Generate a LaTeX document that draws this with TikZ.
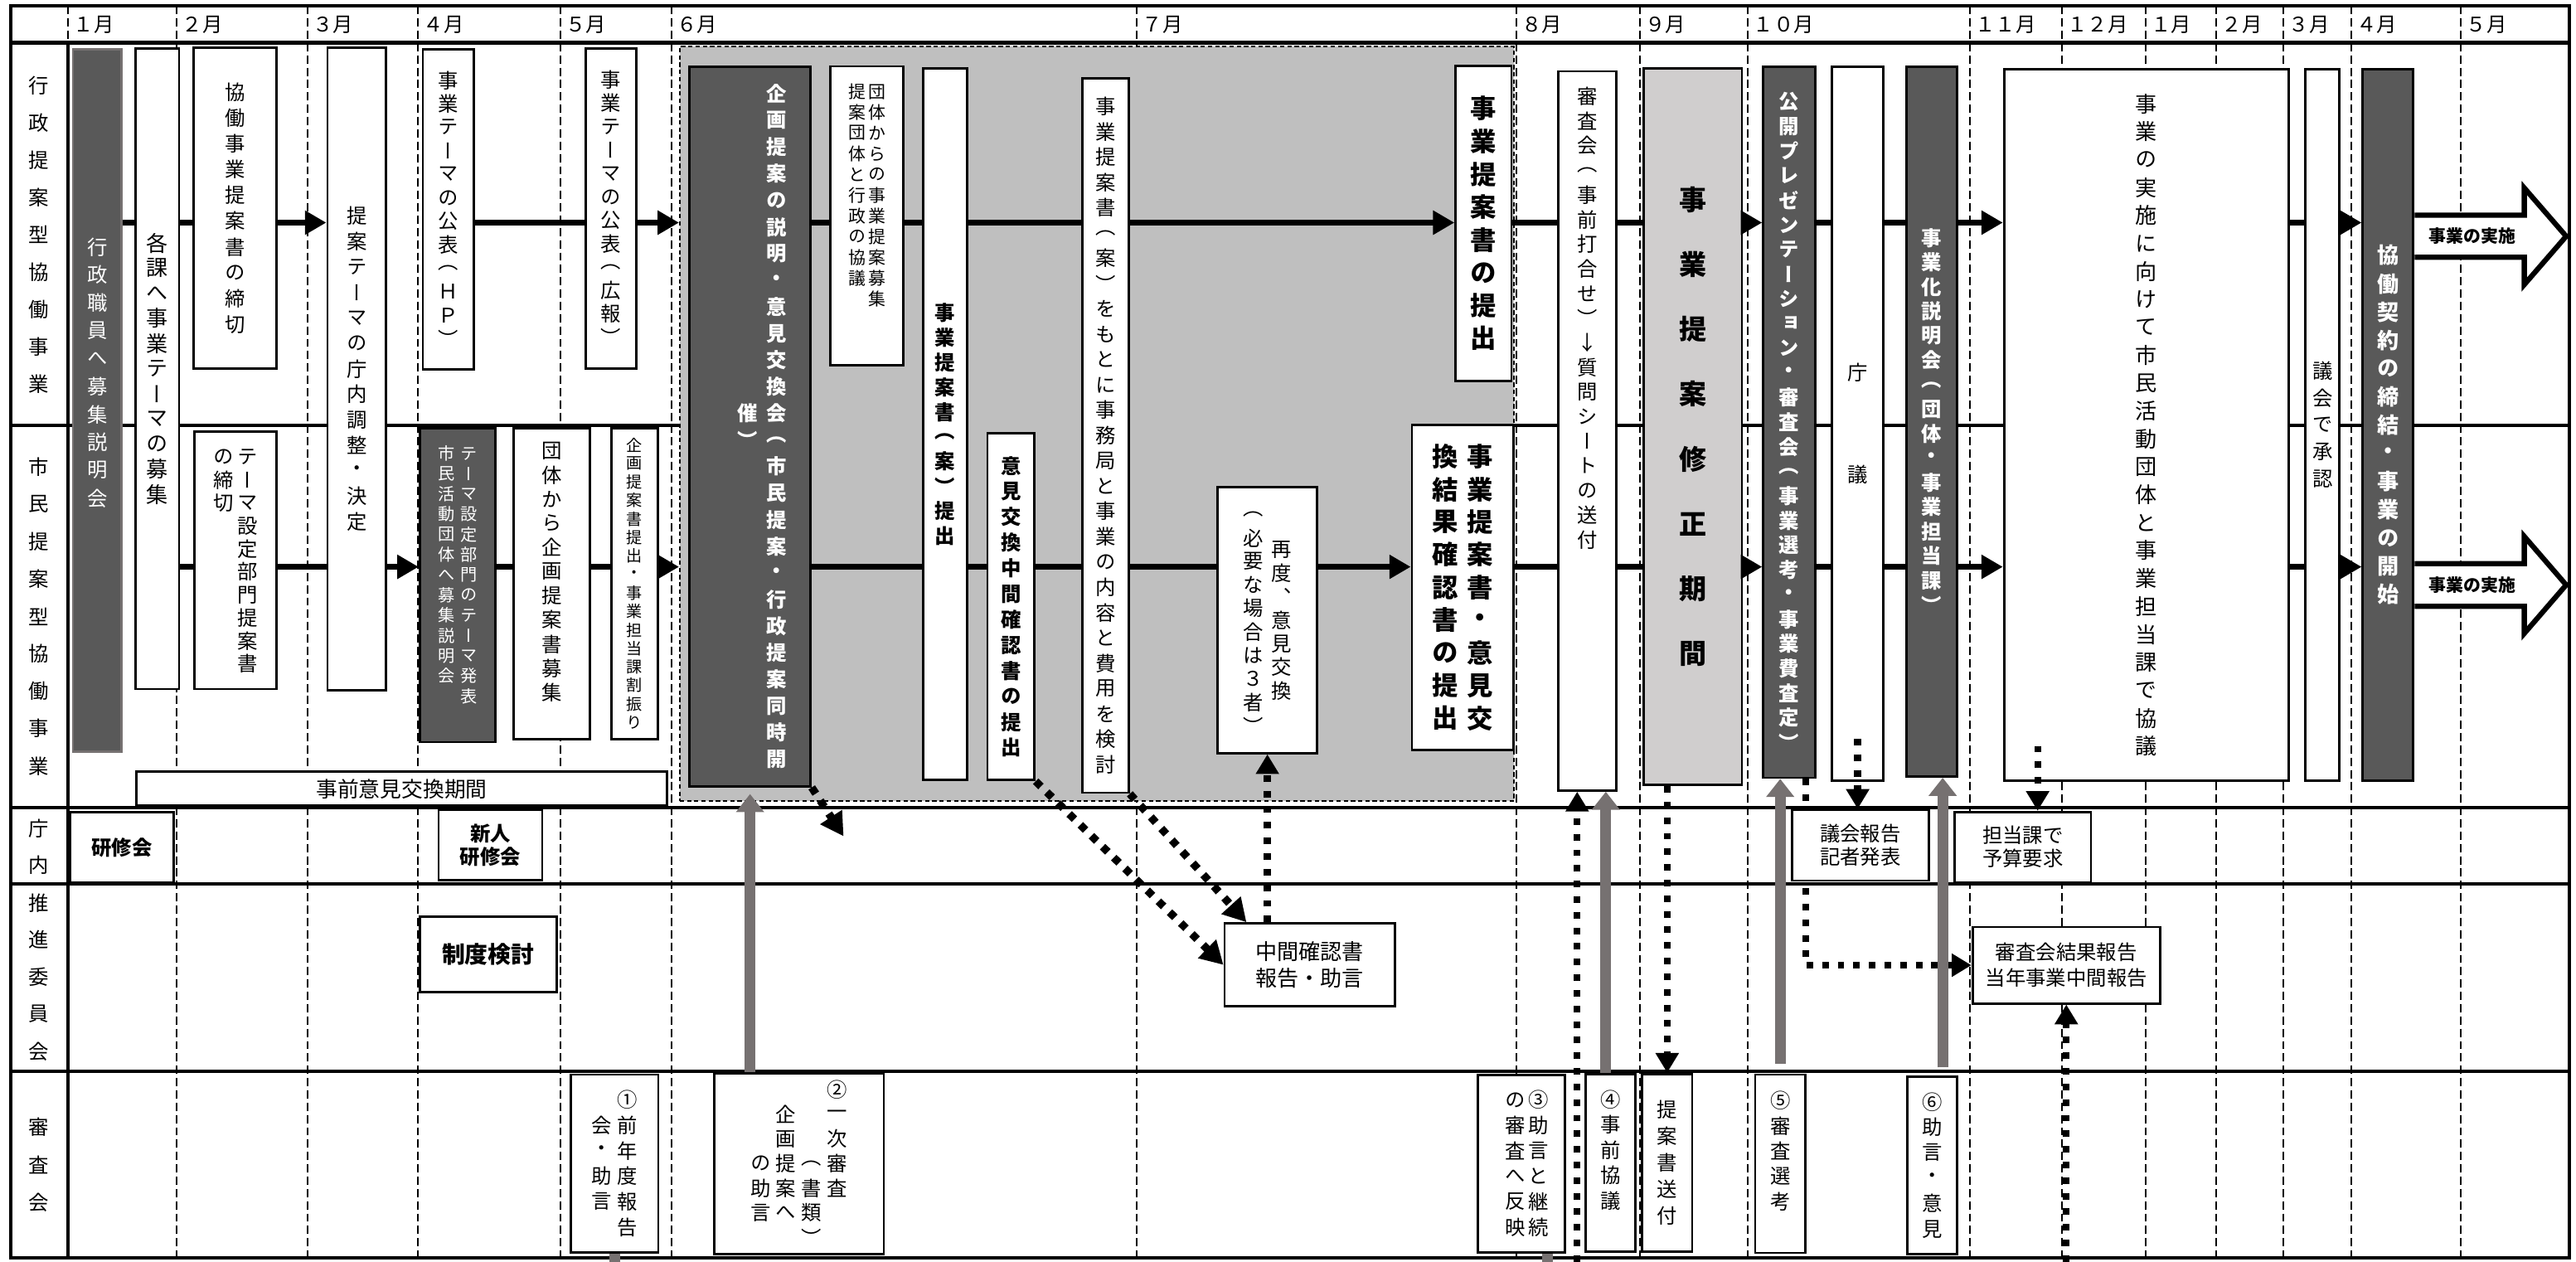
\documentclass[tikz,border=0pt]{standalone}
\usepackage{fontspec}
\setmainfont{Noto Sans CJK JP}
\newfontfamily\vjp{Noto Sans CJK JP}[RawFeature=+vert]
\usetikzlibrary{arrows.meta,positioning}

\definecolor{darkfill}{RGB}{89,89,89}
\definecolor{regiongray}{RGB}{191,191,191}
\definecolor{lightfill}{RGB}{208,206,206}
\definecolor{arrowgray}{RGB}{118,113,113}

% upright text: one character per line
\ExplSyntaxOn
\NewDocumentCommand \vtxt { O{1.2em} m }
  {
    \vbox:n
      {
        \vjp \offinterlineskip
        \tl_map_inline:nn {#2}
          {
            \hbox_to_wd:nn {1em}
              { \hss \vbox_to_ht:nn {#1} { \vss \hbox:n {##1} \vss } \hss }
          }
      }
  }
\ExplSyntaxOff
\newcommand\vcol[2]{$\vcenter{\vtxt[#1]{#2}}$}

\begin{document}
\begin{tikzpicture}[x=0.02cm, y=-0.02cm,
    every node/.style={inner sep=0pt},
    rule/.style={line width=1.2pt},
    divider/.style={line width=0.6pt, dash pattern=on 0.1cm off 0.05cm},
    month/.style={anchor=west, font=\fontsize{7}{8}\selectfont},
    lane/.style={font=\fontsize{7}{8}\selectfont},
    wbox/.style={draw, fill=white, line width=0.8pt, font=\fontsize{7}{8}\selectfont},
    bwbox/.style={wbox, font=\bfseries\fontsize{7}{8}\selectfont},
    dbox/.style={draw, fill=darkfill, text=white, line width=0.8pt, font=\bfseries\fontsize{7}{8}\selectfont},
    flow/.style={line width=2.2pt},
    flowarrow/.style={flow, -{Triangle[length=0.26cm, width=0.28cm]}},
    grayarrow/.style={draw=arrowgray, line width=3.8pt, -{Triangle[length=0.22cm, width=0.33cm]}},
    grayline/.style={draw=arrowgray, line width=3.8pt},
    dasharrow/.style={line width=2.4pt, dash pattern=on 0.08cm off 0.11cm, -{Triangle[length=0.24cm, width=0.27cm]}},
    dotarrow/.style={line width=2.7pt, dash pattern=on 0.09cm off 0.1cm, -{Triangle[length=0.28cm, width=0.3cm]}},
    bigarrow/.style={draw, fill=white, line width=1.8pt}
  ]
    \useasboundingbox (0,0) rectangle (1568,768);

    % month columns
    \draw[divider] (41.5,3.7) -- (41.5,26)
        (107.6,3.7) -- (107.6,765.5) (187,3.7) -- (187,765.5) (254.5,3.7) -- (254.5,765.5)
        (341,3.7) -- (341,765.5) (408.7,3.7) -- (408.7,765.5) (692,3.7) -- (692,765.5)
        (923,3.7) -- (923,765.5) (998,3.7) -- (998,765.5) (1064,3.7) -- (1064,765.5)
        (1199,3.7) -- (1199,765.5) (1255,3.7) -- (1255,765.5) (1306,3.7) -- (1306,765.5)
        (1349,3.7) -- (1349,765.5) (1390,3.7) -- (1390,765.5) (1431,3.7) -- (1431,765.5)
        (1498,3.7) -- (1498,765.5);

    % lanes
    \draw[rule] (6.5,3.7) rectangle (1564,765.5);
    \draw[rule] (6.5,26) -- (1564,26) (6.5,259) -- (1564,259) (6.5,491.5) -- (1564,491.5)
        (6.5,538) -- (1564,538) (6.5,652) -- (1564,652) (41.5,26) -- (41.5,765.5);

    \node[month] (m1) at (44.5,15) {１月};
    \node[month] (m2) at (110.6,15) {２月};
    \node[month] (m3) at (190,15) {３月};
    \node[month] (m4) at (257.5,15) {４月};
    \node[month] (m5) at (344,15) {５月};
    \node[month] (m6) at (411.7,15) {６月};
    \node[month] (m7) at (695,15) {７月};
    \node[month] (m8) at (926,15) {８月};
    \node[month] (m9) at (1001,15) {９月};
    \node[month] (m10) at (1067,15) {１０月};
    \node[month] (m11) at (1202,15) {１１月};
    \node[month] (m12) at (1258,15) {１２月};
    \node[month] (m13) at (1309,15) {１月};
    \node[month] (m14) at (1352,15) {２月};
    \node[month] (m15) at (1393,15) {３月};
    \node[month] (m16) at (1434,15) {４月};
    \node[month] (m17) at (1501,15) {５月};

    \node[lane] (lane1) at (23.8,143) {\vtxt[0.455cm]{行政提案型協働事業}};
    \node[lane] (lane2) at (23.8,375.2) {\vtxt[0.455cm]{市民提案型協働事業}};
    \node[lane] (lane3) at (23.8,515.5) {\vtxt[0.442cm]{庁内}};
    \node[lane] (lane4) at (23.8,594.7) {\vtxt[0.452cm]{推進委員会}};
    \node[lane] (lane5) at (23.8,708.8) {\vtxt[0.46cm]{審査会}};

    % exchange period (June - July)
    \node[draw, fill=regiongray, line width=0.5pt, dash pattern=on 1.5pt off 1pt,
        minimum width=10.16cm, minimum height=9.184cm] (ikenkokan) at (667.7,257.9) {};

    % January - May
    \node[dbox, draw=arrowgray, font=\fontsize{7}{8}\selectfont, minimum width=0.59cm, minimum height=8.552cm]
        (setsumei) at (59.15,243.8) {\vtxt[0.34cm]{行政職員へ募集説明会　　}};
    \node[wbox, font=\fontsize{7.5}{8}\selectfont, minimum width=0.528cm, minimum height=7.8cm]
        (kakabosyu) at (95.8,224.4) {\vtxt[0.306cm]{各課へ事業テーマの募集}};
    \node[wbox, minimum width=1.008cm, minimum height=3.91cm]
        (shimekiri) at (143.2,126.75) {\vtxt[0.314cm]{協働事業提案書の締切}};
    \node[wbox, minimum width=1.002cm, minimum height=3.132cm] (buseshime) at (143.35,341.1)
        {\vcol{0.28cm}{の締切　　　　　　　}\hspace{0.044cm}\vcol{0.28cm}{テーマ設定部門提案書}};
    \node[wbox, minimum width=0.714cm, minimum height=7.82cm]
        (chonai) at (217.15,224.5) {\vtxt[0.31cm]{提案テーマの庁内調整・決定}};
    \node[wbox, minimum width=0.618cm, minimum height=3.9cm]
        (kohyohp) at (272.85,127.5) {\vtxt[0.286cm]{事業テーマの公表（ＨＰ）}};
    \node[wbox, minimum width=0.618cm, minimum height=3.902cm]
        (kohyokoho) at (371.85,126.95) {\vtxt[0.285cm]{事業テーマの公表（広報）}};
    \node[dbox, font=\fontsize{5.8}{7}\selectfont, minimum width=0.92cm, minimum height=3.824cm] (themehappyo) at (278.5,356.1)
        {\vcol{0.246cm}{市民活動団体へ募集説明会　　}\hspace{0.07cm}\vcol{0.246cm}{テーマ設定部門のテーマ発表　}};
    \node[wbox, minimum width=0.924cm, minimum height=3.79cm]
        (kikakubosyu) at (335.9,355.25) {\vtxt[0.294cm]{団体から企画提案書募集　}};
    \node[wbox, font=\fontsize{5.5}{6}\selectfont, minimum width=0.57cm, minimum height=3.79cm]
        (warifuri) at (386.25,355.25) {\vtxt[0.225cm]{企画提案書提出・事業担当課割振り}};
    \node[wbox, font=\fontsize{7.4}{8}\selectfont, minimum width=6.46cm, minimum height=0.414cm]
        (jizenkikan) at (244.5,480.05) {事前意見交換期間};

    % June - July
    \node[dbox, minimum width=1.474cm, minimum height=8.758cm] (kikaku) at (456.55,259.65)
        {\hspace{0.294cm}\vcol{0.324cm}{催）}\hspace{0.11cm}\vcol{0.324cm}{企画提案の説明・意見交換会（市民提案・行政提案同時開}};
    \node[wbox, font=\fontsize{6}{7}\selectfont, minimum width=0.892cm, minimum height=3.64cm] (kyogi) at (527.7,131.4)
        {\vcol{0.252cm}{提案団体と行政の協議　　　}\hspace{0.03cm}\vcol{0.252cm}{団体からの事業提案募集　　}};
    \node[bwbox, minimum width=0.532cm, minimum height=8.662cm]
        (anteishutsu) at (575.3,258.25) {\vtxt[0.302cm]{事業提案書（案）提出}};
    \node[bwbox, minimum width=0.574cm, minimum height=4.22cm]
        (chukanteishutsu) at (615.35,369.3) {\vtxt[0.312cm]{意見交換中間確認書の提出}};
    \node[wbox, minimum width=0.56cm, minimum height=8.698cm]
        (kento) at (673,265.05) {\vtxt[0.308cm]{事業提案書（案）をもとに事務局と事業の内容と費用を検討}};
    \node[bwbox, font=\bfseries\fontsize{9}{10}\selectfont, minimum width=0.68cm, minimum height=3.84cm]
        (teishutsu) at (903,136) {\vtxt[0.4cm]{事業提案書の提出}};
    \node[wbox, minimum width=1.21cm, minimum height=3.238cm] (saido) at (771.45,377.45)
        {\vcol{0.286cm}{（必要な場合は３者）}\hspace{0.094cm}\vcol{0.286cm}{再度、意見交換}};
    \node[bwbox, font=\bfseries\fontsize{9}{10}\selectfont, minimum width=1.238cm, minimum height=3.95cm] (kakunin) at (890.35,357.55)
        {\vcol{0.398cm}{換結果確認書の提出}\hspace{0.1cm}\vcol{0.398cm}{事業提案書・意見交}};

    % August - May
    \node[wbox, minimum width=0.704cm, minimum height=8.756cm] (uchiawase) at (966.3,262.3) {};
    \node[font=\fontsize{7}{8}\selectfont, below=0.16cm of uchiawase.north]
        (uchiawase-t) {\vtxt[0.3cm]{審査会（事前打合せ）↓質問シートの送付}};
    \node[wbox, fill=lightfill, font=\bfseries\fontsize{9.5}{10}\selectfont, minimum width=1.196cm, minimum height=8.726cm]
        (shusei) at (1030.4,259.65) {\vtxt[0.79cm]{事業提案修正期間}};
    \node[dbox, minimum width=0.63cm, minimum height=8.66cm]
        (puresen) at (1089.05,256.9) {\vtxt[0.3cm]{公開プレゼンテーション・審査会（事業選考・事業費査定）}};
    \node[wbox, minimum width=0.63cm, minimum height=8.686cm]
        (chogi) at (1130.75,257.85) {\vtxt[1.24cm]{庁議}};
    \node[dbox, minimum width=0.622cm, minimum height=8.646cm]
        (jigyoka) at (1175.85,256.55) {\vtxt[0.298cm]{事業化説明会（団体・事業担当課）}};
    \node[wbox, font=\fontsize{7.5}{8}\selectfont, minimum width=3.47cm, minimum height=8.666cm]
        (jisshikyogi) at (1306.55,258.65) {\vtxt[0.34cm]{事業の実施に向けて市民活動団体と事業担当課で協議}};
    \node[wbox, minimum width=0.412cm, minimum height=8.666cm]
        (shonin) at (1413.7,258.65) {\vtxt[0.33cm]{議会で承認}};
    \node[dbox, font=\bfseries\fontsize{7.5}{8}\selectfont, minimum width=0.616cm, minimum height=8.666cm]
        (keiyaku) at (1453.6,258.65) {\vtxt[0.344cm]{協働契約の締結・事業の開始}};

    % start of the project
    \draw[bigarrow] (keiyaku.east |- 0,131) -- (1536.5,131) -- (1536.5,114.4) -- (1562,143.8)
        -- (1536.5,173.2) -- (1536.5,156.6) -- (keiyaku.east |- 0,156.6);
    \draw[bigarrow] (keiyaku.east |- 0,343) -- (1536.5,343) -- (1536.5,326.5) -- (1562,356)
        -- (1536.5,385.5) -- (1536.5,369) -- (keiyaku.east |- 0,369);
    \node[font=\bfseries\fontsize{6}{7}\selectfont] (jisshi1) at (1505,143.8) {事業の実施};
    \node[font=\bfseries\fontsize{6}{7}\selectfont] (jisshi2) at (1505,356) {事業の実施};

    % main flows
    \coordinate (r1) at (0,135.5);
    \coordinate (r2) at (0,345);
    \coordinate (pagebot) at (0,768);
    \draw[flow] (setsumei.east |- r1) -- (kakabosyu.west |- r1)
        (kakabosyu.east |- r1) -- (shimekiri.west |- r1)
        (kohyohp.east |- r1) -- (kohyokoho.west |- r1)
        (kikaku.east |- r1) -- (kyogi.west |- r1)
        (kyogi.east |- r1) -- (anteishutsu.west |- r1)
        (anteishutsu.east |- r1) -- (kento.west |- r1)
        (teishutsu.east |- r1) -- (uchiawase.west |- r1)
        (uchiawase.east |- r1) -- (shusei.west |- r1)
        (puresen.east |- r1) -- (chogi.west |- r1)
        (chogi.east |- r1) -- (jigyoka.west |- r1)
        (jisshikyogi.east |- r1) -- (shonin.west |- r1);
    \draw[flowarrow] (shimekiri.east |- r1) -- (chonai.west |- r1);
    \draw[flowarrow] (kohyokoho.east |- r1) -- (ikenkokan.west |- r1);
    \draw[flowarrow] (kento.east |- r1) -- (teishutsu.west |- r1);
    \draw[flowarrow] (shusei.east |- r1) -- (puresen.west |- r1);
    \draw[flowarrow] (jigyoka.east |- r1) -- (jisshikyogi.west |- r1);
    \draw[flowarrow] (shonin.east |- r1) -- (keiyaku.west |- r1);

    \draw[flow] (kakabosyu.east |- r2) -- (buseshime.west |- r2)
        (buseshime.east |- r2) -- (chonai.west |- r2)
        (themehappyo.east |- r2) -- (kikakubosyu.west |- r2)
        (kikakubosyu.east |- r2) -- (warifuri.west |- r2)
        (kikaku.east |- r2) -- (anteishutsu.west |- r2)
        (anteishutsu.east |- r2) -- (chukanteishutsu.west |- r2)
        (chukanteishutsu.east |- r2) -- (kento.west |- r2)
        (kento.east |- r2) -- (saido.west |- r2)
        (kakunin.east |- r2) -- (uchiawase.west |- r2)
        (uchiawase.east |- r2) -- (shusei.west |- r2)
        (puresen.east |- r2) -- (chogi.west |- r2)
        (chogi.east |- r2) -- (jigyoka.west |- r2)
        (jisshikyogi.east |- r2) -- (shonin.west |- r2);
    \draw[flowarrow] (chonai.east |- r2) -- (themehappyo.west |- r2);
    \draw[flowarrow] (warifuri.east |- r2) -- (ikenkokan.west |- r2);
    \draw[flowarrow] (saido.east |- r2) -- (kakunin.west |- r2);
    \draw[flowarrow] (shusei.east |- r2) -- (puresen.west |- r2);
    \draw[flowarrow] (jigyoka.east |- r2) -- (jisshikyogi.west |- r2);
    \draw[flowarrow] (shonin.east |- r2) -- (keiyaku.west |- r2);

    % committee reports
    \node[wbox, minimum width=2.282cm, minimum height=0.93cm, align=center]
        (kekka) at (1257.75,587.45) {審査会結果報告\\[1pt]当年事業中間報告};
    \draw[dasharrow] ([xshift=-0.13cm]puresen.south east) |- (kekka.west);

    % office
    \node[bwbox, minimum width=1.256cm, minimum height=0.86cm] (kenshu) at (74.2,515.7) {研修会};
    \node[bwbox, minimum width=1.26cm, minimum height=0.854cm, align=center] (shinjin) at (298.5,514.35) {新人\\研修会};
    \node[wbox, minimum width=1.666cm, minimum height=0.86cm, align=center] (gikai) at (1132.35,514.5) {議会報告\\記者発表};
    \node[wbox, minimum width=1.66cm, minimum height=0.856cm, align=center] (yosan) at (1231.3,515.6) {担当課で\\予算要求};
    \node[bwbox, font=\bfseries\fontsize{8}{9}\selectfont, minimum width=1.664cm, minimum height=0.924cm] (seido) at (297.1,580.9) {制度検討};
    \node[wbox, font=\fontsize{7.5}{8}\selectfont, minimum width=2.072cm, minimum height=1.01cm, align=center]
        (chukan) at (797.2,587.25) {中間確認書\\[1pt]報告・助言};

    % review board
    \node[wbox, minimum width=1.066cm, minimum height=2.164cm] (shinsa1) at (374.05,708.1)
        {\vcol{0.31cm}{　会・助言　}\hspace{0.068cm}\vcol{0.31cm}{①前年度報告}};
    \node[wbox, minimum width=2.068cm, minimum height=2.2cm] (shinsa2) at (486.3,708.2)
        {\vcol{0.3cm}{　　　の助言　}\hspace{0.066cm}\vcol{0.3cm}{　企画提案へ　}\hspace{0.066cm}\vcol{0.3cm}{　　　（書類）}\hspace{0.066cm}\vcol{0.3cm}{②一次審査　　}};
    \node[wbox, minimum width=1.062cm, minimum height=2.162cm] (shinsa3) at (925.95,708.15)
        {\hspace{0.14cm}\vcol{0.31cm}{の審査へ反映}\hspace{0.038cm}\vcol{0.31cm}{③助言と継続}};
    \node[wbox, minimum width=0.606cm, minimum height=2.166cm] (shinsa4) at (980.45,707.75) {\vtxt[0.308cm]{④事前協議　}};
    \node[wbox, minimum width=0.608cm, minimum height=2.166cm] (sofu) at (1014.8,707.75) {\vtxt[0.322cm]{提案書送付}};
    \node[wbox, minimum width=0.608cm, minimum height=2.172cm] (shinsa5) at (1083.6,708.3) {\vtxt[0.308cm]{⑤審査選考　}};
    \node[wbox, minimum width=0.608cm, minimum height=2.156cm] (shinsa6) at (1176.2,709.3) {\vtxt[0.31cm]{⑥助言・意見}};

    % advice from the review board
    \draw[grayarrow, shorten >=0.08cm] (kikaku.south |- shinsa2.north) -- (kikaku.south);
    \coordinate (g4) at ([xshift=-0.06cm]shinsa4.north);
    \draw[grayarrow] (g4) -- (g4 |- uchiawase.south);
    \draw[grayarrow, shorten <=0.12cm] (shinsa5.north) -- (shinsa5.north |- puresen.south);
    \coordinate (g6) at ([xshift=0.126cm]shinsa6.north);
    \draw[grayarrow, shorten <=0.1cm] (g6) -- (g6 |- jigyoka.south);
    \draw[grayline] (shinsa1.south) -- (shinsa1.south |- pagebot);
    \coordinate (g3) at ([xshift=0.32cm]shinsa3.south);
    \draw[grayline] (g3) -- (g3 |- pagebot);

    % reports and requests
    \coordinate (s3) at (960,768);
    \draw[dasharrow] (s3) -- (s3 |- uchiawase.south);
    \draw[dasharrow] (sofu.north |- shusei.south) -- (sofu.north);
    \draw[dasharrow] ([yshift=0.52cm]chogi.south) -- (chogi.south |- gikai.north);
    \coordinate (c4top) at ([xshift=0.18cm]yosan.north);
    \path (c4top |- jisshikyogi.south) coordinate (c4from);
    \draw[dasharrow] ([yshift=0.44cm]c4from) -- (c4top);
    \draw[dasharrow] (saido.south |- chukan.north) -- (saido.south);
    \draw[dasharrow] (kekka.south |- pagebot) -- (kekka.south);

    \coordinate (kdot) at (513.5,509);
    \draw[dotarrow] (kikaku.south east) -- (kdot);
    \draw[dotarrow] (chukanteishutsu.south east) -- (chukan.west);
    \draw[dotarrow] (kento.south east) -- ([xshift=0.28cm]chukan.north west);
\end{tikzpicture}
\end{document}
